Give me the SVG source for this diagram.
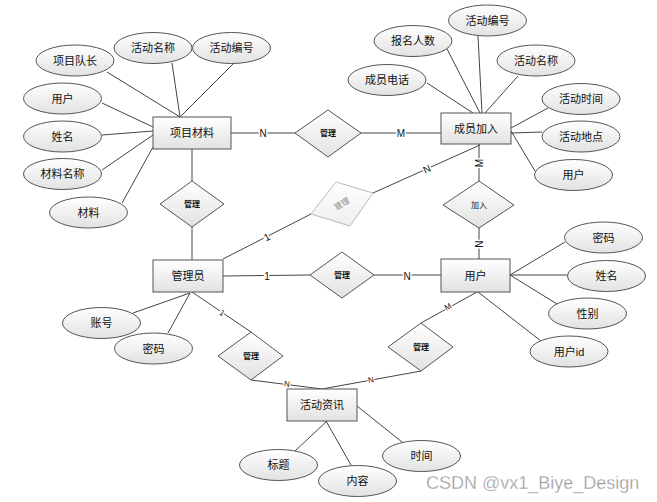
<svg xmlns="http://www.w3.org/2000/svg" width="657" height="502" viewBox="0 0 657 502">
<defs>
<linearGradient id="g" x1="0" y1="0" x2="0" y2="1">
<stop offset="0" stop-color="#ffffff"/>
<stop offset="1" stop-color="#e2e2e2"/>
</linearGradient>
<linearGradient id="gf" x1="0" y1="0" x2="0" y2="1">
<stop offset="0" stop-color="#ffffff"/>
<stop offset="1" stop-color="#eeeeee"/>
</linearGradient>
</defs>
<style>
.sh{fill:url(#g);stroke:#555;stroke-width:1}
.ln{stroke:#444;stroke-width:1;fill:none}
.t{font-family:"Liberation Sans","Noto Sans CJK SC",sans-serif;font-size:11px;fill:#111;text-anchor:middle;dominant-baseline:central}
.d{font-family:"Liberation Sans","Noto Sans CJK SC",sans-serif;font-size:8px;font-weight:bold;fill:#111;text-anchor:middle;dominant-baseline:central}
.c{font-family:"Liberation Sans",sans-serif;font-size:10px;fill:#111;text-anchor:middle;dominant-baseline:central;stroke:#fff;stroke-width:3;paint-order:stroke}
.cs{font-family:"Liberation Sans",sans-serif;font-size:8px;fill:#111;text-anchor:middle;dominant-baseline:central;stroke:#fff;stroke-width:2.5;paint-order:stroke}
</style>
<rect width="657" height="502" fill="#fff"/>
<g id="connectors">
<path class="ln" d="M107,72L180,117M172,63L180,117M234,63L180,117M102,103L153,127M102,135L153,131M102,170L153,135M122,203L153,147"/>
<path class="ln" d="M447,49L480,113M478,36L482,113M518,76L485,113M427,83L473,113M548,108L511,128M542,132L511,133M535,171L511,131"/>
<path class="ln" d="M231,133L295,133M361,133L441,133M192,149L192,181M192,227L192,260"/>
<path class="ln" d="M223,259L311,214M373,193L480,145M479,144L479,181M479,228L479,259"/>
<path class="ln" d="M223,276L310,275M374,275L441,275"/>
<path class="ln" d="M192,292L251,332M251,380L322,389M477,292L421,323M421,371L322,389"/>
<path class="ln" d="M133,313L190,293M168,333L190,293"/>
<path class="ln" d="M510,275L565,242M510,275L567,275M510,275L557,304M478,292L541,341"/>
<path class="ln" d="M295,451L327,421M326,421L351,465M357,406L402,442"/>
<text class="c" x="263" y="133">N</text>
<text class="c" x="401" y="133">M</text>
<text class="c" x="267" y="237" transform="rotate(-27 267 237)">1</text>
<text class="c" x="427" y="169" transform="rotate(-24 427 169)">N</text>
<text class="c" x="479" y="163" transform="rotate(-90 479 163)">M</text>
<text class="c" x="479" y="244" transform="rotate(-90 479 244)">N</text>
<text class="c" x="267" y="276">1</text>
<text class="c" x="407" y="276">N</text>
<text class="cs" x="222" y="313" transform="rotate(33 222 313)">1</text>
<text class="cs" x="287" y="384" transform="rotate(7 287 384)">N</text>
<text class="cs" x="371" y="380" transform="rotate(-10 371 380)">N</text>
<text class="cs" x="448" y="307" transform="rotate(-28 448 307)">M</text>
</g>
<g id="xmcl"><rect class="sh" x="153" y="117" width="78" height="32"/><text class="t" x="192" y="133">项目材料</text></g>
<g id="cyjr"><rect class="sh" x="441" y="113" width="70" height="31"/><text class="t" x="476" y="128.5">成员加入</text></g>
<g id="gly"><rect class="sh" x="153" y="260" width="70" height="32"/><text class="t" x="188" y="276">管理员</text></g>
<g id="yh"><rect class="sh" x="441" y="259" width="69" height="33"/><text class="t" x="475.5" y="275.5">用户</text></g>
<g id="hdzx"><rect class="sh" x="287" y="389" width="70" height="32"/><text class="t" x="322" y="405">活动资讯</text></g>
<g id="r1"><polygon class="sh" points="328,110 361,133 328,157 295,133"/><text class="d" x="328" y="133">管理</text></g>
<g id="r2"><polygon class="sh" points="192,181 224,204 192,227 160,204"/><text class="d" x="192" y="204">管理</text></g>
<g id="r3"><polygon points="336,182 373,193 350,226 311,214" fill="url(#gf)" stroke="#bbb"/><text class="d" x="342" y="204" style="fill:#888;font-weight:normal" transform="rotate(-30 342 204)">管理</text></g>
<g id="r4"><polygon class="sh" points="479,181 514,205 479,228 443,205"/><text class="d" x="479" y="205" style="font-weight:normal">加入</text></g>
<g id="r5"><polygon class="sh" points="342,252 374,275 342,298 310,275"/><text class="d" x="342" y="275">管理</text></g>
<g id="r6"><polygon class="sh" points="251,332 283,356 251,380 218,356"/><text class="d" x="251" y="356">管理</text></g>
<g id="r7"><polygon class="sh" points="421,323 453,347 421,371 388,347"/><text class="d" x="421" y="347">管理</text></g>
<g id="a1"><ellipse class="sh" cx="75" cy="60.5" rx="39" ry="15.5"/><text class="t" x="75" y="60.5">项目队长</text></g>
<g id="a2"><ellipse class="sh" cx="153" cy="48" rx="39" ry="15.5"/><text class="t" x="153" y="48">活动名称</text></g>
<g id="a3"><ellipse class="sh" cx="231.5" cy="48" rx="39" ry="15.5"/><text class="t" x="231.5" y="48">活动编号</text></g>
<g id="a4"><ellipse class="sh" cx="62.5" cy="98.5" rx="39" ry="15.5"/><text class="t" x="62.5" y="98.5">用户</text></g>
<g id="a5"><ellipse class="sh" cx="62.5" cy="136.5" rx="39" ry="15.5"/><text class="t" x="62.5" y="136.5">姓名</text></g>
<g id="a6"><ellipse class="sh" cx="62.5" cy="174" rx="39" ry="15.5"/><text class="t" x="62.5" y="174">材料名称</text></g>
<g id="a7"><ellipse class="sh" cx="88.5" cy="212.5" rx="39" ry="15.5"/><text class="t" x="88.5" y="212.5">材料</text></g>
<g id="b1"><ellipse class="sh" cx="487.5" cy="20.5" rx="39" ry="15.5"/><text class="t" x="487.5" y="20.5">活动编号</text></g>
<g id="b2"><ellipse class="sh" cx="413" cy="41" rx="39" ry="15.5"/><text class="t" x="413" y="41">报名人数</text></g>
<g id="b3"><ellipse class="sh" cx="536" cy="60.5" rx="39" ry="15.5"/><text class="t" x="536" y="60.5">活动名称</text></g>
<g id="b4"><ellipse class="sh" cx="387" cy="80" rx="39" ry="15.5"/><text class="t" x="387" y="80">成员电话</text></g>
<g id="b5"><ellipse class="sh" cx="581" cy="99" rx="39" ry="15.5"/><text class="t" x="581" y="99">活动时间</text></g>
<g id="b6"><ellipse class="sh" cx="581" cy="136.5" rx="39" ry="15.5"/><text class="t" x="581" y="136.5">活动地点</text></g>
<g id="b7"><ellipse class="sh" cx="573.5" cy="175" rx="39" ry="15.5"/><text class="t" x="573.5" y="175">用户</text></g>
<g id="c1"><ellipse class="sh" cx="101.5" cy="323" rx="39" ry="15.5"/><text class="t" x="101.5" y="323">账号</text></g>
<g id="c2"><ellipse class="sh" cx="153.5" cy="348.5" rx="39" ry="15.5"/><text class="t" x="153.5" y="348.5">密码</text></g>
<g id="d1"><ellipse class="sh" cx="603.5" cy="237.5" rx="39" ry="15.5"/><text class="t" x="603.5" y="237.5">密码</text></g>
<g id="d2"><ellipse class="sh" cx="606.5" cy="276" rx="39" ry="15.5"/><text class="t" x="606.5" y="276">姓名</text></g>
<g id="d3"><ellipse class="sh" cx="587.5" cy="313.5" rx="39" ry="15.5"/><text class="t" x="587.5" y="313.5">性别</text></g>
<g id="d4"><ellipse class="sh" cx="569" cy="351.5" rx="39" ry="15.5"/><text class="t" x="569" y="351.5">用户id</text></g>
<g id="e1"><ellipse class="sh" cx="278.5" cy="465" rx="39" ry="15.5"/><text class="t" x="278.5" y="465">标题</text></g>
<g id="e2"><ellipse class="sh" cx="357.5" cy="481" rx="39" ry="15.5"/><text class="t" x="357.5" y="481">内容</text></g>
<g id="e3"><ellipse class="sh" cx="421.5" cy="456" rx="39" ry="15.5"/><text class="t" x="421.5" y="456">时间</text></g>
<text x="426" y="489" font-family="Liberation Sans, sans-serif" font-size="18" fill="#9a9a9a" stroke="#fff" stroke-width="0.3">CSDN @vx1_Biye_Design</text>
</svg>
